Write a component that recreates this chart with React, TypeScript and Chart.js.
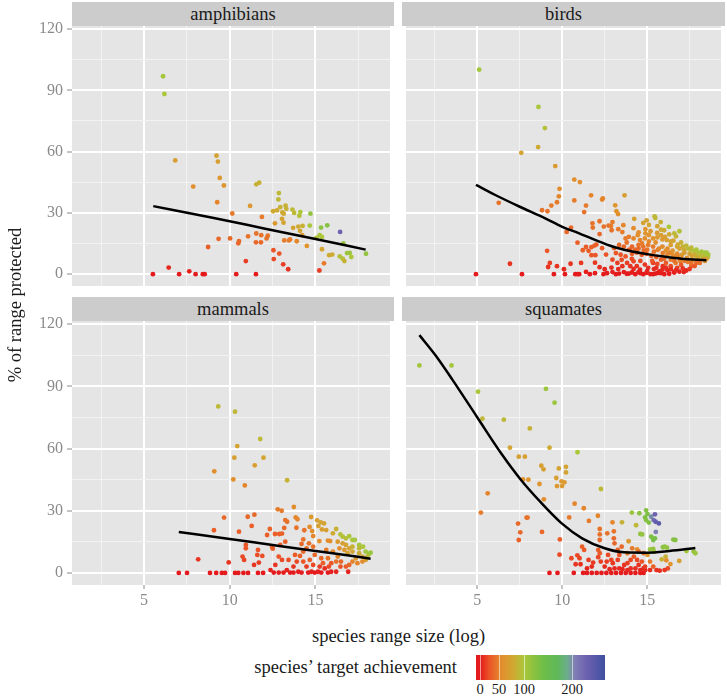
import React, { useEffect, useRef } from 'react';
import { Chart, registerables } from 'chart.js';

Chart.register(...registerables);

type Pt = [number, number, number]; // [log range size, % protected, target achievement]
type FitPt = [number, number];

// ---------- data ----------
const amphibians: Pt[] = [
  [6.11, 96.9, 105], [6.19, 88.2, 100], [6.82, 55.7, 70], [9.23, 58.0, 72], [9.31, 55.1, 70],
  [9.42, 47.1, 65], [9.66, 43.4, 62], [7.87, 42.9, 55], [9.27, 35.2, 50], [11.55, 44.0, 85],
  [11.72, 44.8, 85], [11.19, 33.4, 65], [10.15, 29.7, 45], [11.88, 28.0, 45], [12.87, 39.7, 90],
  [12.84, 36.6, 90], [12.53, 30.8, 80], [12.76, 31.2, 80], [12.95, 32.8, 85], [13.26, 33.6, 85],
  [13.3, 32.0, 85], [13.07, 30.2, 80], [13.15, 29.6, 80], [13.66, 31.6, 90], [13.76, 30.0, 90],
  [14.12, 30.4, 100], [14.06, 28.6, 95], [14.71, 29.6, 115], [13.05, 27.1, 75], [13.14, 25.2, 75],
  [12.64, 24.9, 65], [13.7, 22.7, 75], [14.0, 23.3, 80], [14.25, 23.6, 85], [14.1, 21.2, 75],
  [14.67, 23.8, 100], [14.23, 19.1, 65], [15.33, 22.8, 120], [15.69, 23.9, 125], [16.44, 20.7, 230],
  [15.25, 19.1, 100], [15.38, 18.2, 100], [15.06, 17.8, 95], [16.63, 15.1, 115], [15.38, 12.2, 75],
  [15.8, 9.3, 80], [15.98, 9.6, 80], [16.42, 8.7, 95], [16.59, 7.6, 95], [16.69, 6.4, 85],
  [16.84, 10.3, 110], [17.0, 10.4, 110], [17.09, 8.4, 100], [17.95, 10.0, 115], [15.5, 5.3, 45],
  [15.23, 1.8, 15], [14.5, 13.8, 60], [13.91, 16.1, 50], [13.52, 17.0, 45], [13.45, 16.5, 45],
  [13.18, 16.5, 45], [12.22, 18.8, 40], [12.15, 17.5, 40], [11.84, 19.1, 40], [11.55, 19.9, 40],
  [11.07, 18.5, 40], [11.82, 15.6, 35], [11.53, 15.6, 35], [10.54, 16.2, 35], [10.5, 15.1, 35],
  [10.02, 17.5, 35], [9.35, 17.3, 35], [8.74, 13.3, 30], [12.55, 11.7, 25], [12.89, 10.1, 25],
  [12.57, 7.4, 20], [13.12, 4.8, 15], [13.41, 2.4, 10], [10.94, 6.4, 15], [6.44, 3.2, 5],
  [5.52, 0, 0], [7.05, 0, 0], [7.64, 1.4, 3], [8.01, 0, 0], [8.43, 0, 0],
  [8.54, 0, 0], [10.38, 0, 0], [11.53, 0, 0],
];
const amphibiansFit: FitPt[] = [[5.54, 33.3], [9, 27.6], [12, 22.4], [15, 17.2], [17.93, 12.0]];

const birds: Pt[] = [
  [5.11, 100.1, 105], [4.92, 0, 0], [8.6, 81.9, 100], [8.98, 71.5, 95], [8.58, 62.2, 80],
  [7.59, 59.4, 75], [9.59, 52.9, 65], [9.84, 41.8, 55], [9.8, 38.1, 50], [10.71, 46.3, 55],
  [11.04, 45.1, 55], [9.69, 35.2, 45], [9.36, 33.6, 45], [8.81, 31.3, 40], [9.13, 30.8, 40],
  [6.26, 34.9, 40], [10.71, 36.1, 45], [11.4, 33.6, 45], [11.29, 30.4, 40], [11.7, 38.6, 50],
  [12.35, 36.5, 50], [12.39, 37.1, 50], [10.26, 20.7, 35], [10.52, 22.8, 35], [11.78, 24.9, 40],
  [11.8, 22.8, 40], [12.2, 25.9, 40], [12.45, 23.3, 40], [12.73, 23.8, 40], [12.2, 19.6, 35],
  [10.9, 15.4, 30], [11.4, 13.3, 30], [11.21, 11.7, 30], [11.72, 13.2, 30], [11.9, 14.0, 30],
  [12.01, 14.5, 30], [11.55, 11.4, 28], [11.72, 9.3, 25], [11.95, 9.3, 25], [12.35, 12.7, 28],
  [12.58, 9.6, 25], [9.11, 11.4, 25], [9.27, 5.5, 15], [9.17, 3.5, 10], [9.69, 3.9, 10],
  [6.92, 5.1, 10], [7.63, 0, 0], [9.51, 0, 0], [10.1, 2.4, 5], [10.16, 0, 0],
  [10.49, 5.1, 10], [10.77, 0, 0], [10.9, 0, 0], [11.0, 0, 0], [11.11, 5.5, 12],
  [11.4, 1.1, 3], [11.63, 0, 0], [11.93, 0.5, 1], [11.93, 5.6, 12], [12.2, 3.4, 8],
  [12.43, 0, 0], [12.5, 2.4, 5], [12.64, 0.5, 1],
  [13.67, 38.6, 70], [13.12, 33.7, 60], [13.19, 30.8, 60], [13.29, 29.4, 55], [14.24, 27.1, 70],
  [14.77, 25.1, 75], [14.97, 26.3, 75], [15.1, 24.1, 75], [15.44, 28.3, 90], [15.48, 27.5, 90],
  [16.28, 23.1, 100], [15.82, 21.8, 80], [12.96, 25.5, 45], [12.87, 23.6, 45], [12.91, 21.5, 40],
  [13.54, 20.6, 45], [13.73, 17.5, 45], [13.92, 18.3, 45], [14.2, 17.5, 50], [14.45, 19.1, 55],
  [14.58, 16.7, 50], [14.87, 17.5, 55], [15.1, 19.1, 60], [15.35, 17.5, 60], [15.59, 20.2, 65],
  [15.82, 19.1, 70], [16.05, 18.3, 70], [16.16, 16.7, 70], [16.55, 16.4, 75], [16.39, 14.3, 70],
  [16.77, 13.5, 75], [17.16, 11.9, 80], [17.54, 12.2, 95], [17.82, 11.1, 100], [18.11, 10.0, 100],
  [18.39, 9.0, 95], [18.58, 8.4, 95], [17.92, 8.7, 85], [17.63, 9.0, 70], [17.35, 7.9, 60],
  [17.06, 9.5, 65], [16.77, 10.0, 60], [16.58, 8.7, 55], [16.96, 6.3, 50], [16.68, 5.5, 45],
  [16.39, 7.1, 45], [16.2, 9.5, 50], [15.92, 10.3, 45], [15.63, 11.9, 45], [15.35, 13.5, 45],
  [15.06, 14.3, 45], [14.77, 13.5, 40], [14.49, 14.3, 40], [14.11, 13.5, 35], [13.92, 11.9, 35],
  [13.63, 13.5, 35], [13.35, 14.3, 35], [13.06, 12.7, 30], [13.16, 10.3, 25], [13.44, 9.5, 25],
  [13.73, 8.7, 25], [14.11, 10.0, 28], [14.39, 10.6, 30], [14.68, 9.5, 30], [14.96, 10.0, 32],
  [15.25, 9.0, 32], [15.54, 8.4, 32], [15.82, 7.1, 30], [16.11, 5.5, 28], [16.39, 3.9, 20],
  [16.77, 3.1, 15], [17.16, 1.0, 5], [12.96, 7.1, 20], [13.25, 5.5, 15], [13.54, 3.9, 10],
  [13.82, 5.5, 15], [14.01, 3.9, 10], [14.2, 6.3, 18], [14.39, 3.9, 10], [14.58, 2.2, 5],
  [14.87, 4.7, 12], [15.06, 3.1, 8], [15.35, 5.5, 15], [15.54, 3.1, 8], [15.73, 1.4, 3],
  [15.92, 3.9, 10], [16.2, 1.9, 5], [16.58, 1.0, 2], [13.35, 0.3, 0], [13.63, 1.0, 2],
  [13.92, 0.3, 0], [14.3, 0, 0], [14.49, 1.0, 2], [14.77, 0, 0], [14.96, 0.6, 1],
  [15.35, 0, 0], [15.63, 0.6, 1], [16.01, 0, 0], [12.96, 1.0, 2], [13.16, 0, 0],
  [14.5, 20.5, 55], [14.9, 22.0, 60], [15.2, 21.0, 65], [15.6, 23.5, 75], [16.0, 21.5, 80],
  [16.3, 19.5, 80], [16.7, 18.5, 85], [17.0, 15.5, 85], [17.3, 14.0, 90], [17.6, 13.0, 90],
  [17.9, 12.0, 100], [18.2, 11.0, 105], [18.4, 10.5, 100], [16.9, 12.5, 75], [17.2, 10.5, 70],
  [17.5, 10.0, 75], [17.8, 9.5, 80], [18.0, 8.0, 80], [18.3, 7.5, 75], [18.6, 9.5, 100],
  [16.5, 11.5, 60], [16.2, 12.5, 55], [15.9, 13.5, 55], [15.5, 15.5, 55], [15.1, 16.0, 50],
  [14.7, 15.0, 45], [14.3, 12.0, 35], [13.8, 15.5, 40], [16.0, 7.5, 35], [16.6, 6.5, 40],
  [17.0, 7.5, 50], [17.4, 6.0, 45], [17.7, 7.0, 55], [15.3, 6.5, 25], [15.6, 5.0, 20],
  [14.6, 6.5, 20], [14.1, 7.5, 22], [13.5, 7.0, 20], [16.4, 2.5, 8], [17.0, 4.5, 25],
  [17.6, 4.0, 30], [15.0, 1.5, 4], [14.2, 2.5, 6], [13.3, 2.5, 6], [12.9, 3.2, 8],
  [16.8, 9.0, 50],
  [15.2, 0, 0], [15.5, 0.3, 0], [15.8, 0.5, 1], [16.3, 0.2, 0], [16.6, 0.8, 2],
  [16.9, 1.2, 3], [17.3, 1.8, 5], [14.1, 0.8, 1], [13.8, 0.2, 0], [14.6, 0.5, 1],
  [15.4, 2.5, 6], [15.9, 2.2, 5], [16.1, 3.2, 8], [16.7, 2.0, 6], [17.1, 2.8, 10],
  [17.5, 2.5, 12], [17.8, 4.0, 25], [18.1, 5.5, 40], [18.4, 6.5, 55], [18.5, 7.5, 70],
  [17.9, 5.5, 35], [17.6, 5.5, 40], [17.2, 6.5, 45], [16.9, 7.5, 45], [16.5, 9.5, 55],
  [16.3, 10.5, 50], [16.1, 11.5, 55], [15.7, 12.5, 50], [15.4, 11.0, 40], [15.0, 12.0, 40],
  [14.8, 11.5, 35], [14.5, 12.5, 35], [14.0, 12.0, 30], [18.2, 9.0, 90], [18.5, 10.5, 105],
  [18.0, 10.5, 95], [17.7, 11.5, 95], [17.4, 12.5, 90], [17.1, 13.5, 85], [16.8, 14.5, 80],
  [16.4, 16.0, 75], [15.9, 17.0, 65], [15.6, 18.0, 65], [14.9, 20.0, 60], [14.2, 22.5, 55],
  [13.6, 24.0, 50], [13.3, 22.0, 45], [16.6, 20.0, 90], [16.9, 21.0, 95], [15.8, 25.5, 85],
];
const birdsFit: FitPt[] = [
  [4.92, 43.7], [6, 39], [7.5, 33], [9, 27.3], [10, 23.2], [11, 20], [12, 16.5],
  [13, 13.4], [14, 11.3], [15, 9.8], [16, 8.6], [17, 7.6], [18.49, 6.8],
];

const mammals: Pt[] = [
  [9.33, 80.3, 90], [10.31, 77.8, 90], [11.78, 64.6, 90], [10.44, 61.2, 75], [11.97, 55.6, 75],
  [10.27, 55.6, 70], [11.46, 51.9, 70], [9.1, 49.0, 55], [10.21, 45.1, 55], [10.88, 42.2, 50],
  [13.35, 44.7, 85], [12.8, 30.7, 45], [13.03, 30.0, 45], [13.74, 31.8, 55], [9.67, 26.7, 35],
  [11.05, 27.1, 35], [11.44, 28.1, 35], [9.08, 20.6, 30], [10.54, 19.9, 30], [11.28, 22.7, 30],
  [12.34, 21.2, 32], [12.64, 18.8, 30], [12.89, 18.8, 30], [13.05, 19.0, 32], [13.18, 21.7, 35],
  [13.24, 25.5, 40], [13.35, 24.7, 40], [13.85, 26.8, 50], [13.95, 25.9, 50], [13.89, 21.8, 40],
  [14.35, 20.6, 40], [14.75, 27.0, 65], [14.66, 22.2, 55], [14.81, 20.2, 55], [14.87, 17.8, 50],
  [15.1, 25.4, 70], [15.17, 22.7, 70], [15.31, 24.4, 75], [15.5, 23.9, 75], [15.38, 21.0, 70],
  [15.63, 20.7, 70], [15.23, 15.4, 55], [15.73, 15.6, 55], [15.86, 15.4, 55], [16.21, 21.2, 85],
  [16.02, 19.1, 80], [16.46, 18.6, 95], [16.59, 17.5, 95], [16.78, 16.7, 95], [16.97, 17.8, 100],
  [17.16, 15.9, 100], [17.3, 15.9, 105], [17.55, 13.5, 105], [17.78, 12.7, 100], [17.93, 10.3, 105],
  [18.12, 9.2, 105], [18.22, 9.8, 110], [16.78, 13.5, 75], [16.97, 11.9, 75], [17.16, 10.3, 75],
  [16.88, 9.5, 70], [16.69, 11.1, 65], [16.59, 14.3, 70], [16.3, 15.1, 65], [17.55, 9.5, 80],
  [17.74, 7.9, 75], [17.36, 7.1, 65], [17.93, 6.3, 70], [17.16, 5.5, 50], [16.97, 3.9, 35],
  [16.78, 3.1, 30], [16.91, 0.6, 5], [16.3, 7.9, 50], [16.21, 5.5, 40], [16.46, 3.1, 25],
  [16.21, 0.6, 5], [15.78, 3.1, 20], [15.44, 4.7, 30], [15.73, 7.1, 40], [15.34, 7.1, 35],
  [14.96, 8.7, 35], [14.67, 6.3, 30], [14.87, 3.9, 20], [15.25, 3.1, 15], [15.15, 0.6, 3],
  [14.77, 0.6, 2], [14.48, 3.1, 15], [14.29, 5.5, 25], [14.29, 10.3, 35], [14.1, 8.2, 30],
  [13.91, 5.5, 20], [13.72, 3.1, 12], [14.0, 0.6, 2], [13.52, 0.2, 0], [13.33, 1.4, 5],
  [13.81, 8.7, 28], [13.43, 6.3, 22], [14.29, 16.2, 40], [14.62, 14.3, 40], [14.48, 11.9, 38],
  [12.95, 13.5, 30], [13.05, 6.3, 20], [12.86, 7.9, 25], [12.66, 3.9, 12], [12.38, 1.4, 5],
  [12.57, 0.2, 0], [12.86, 0.2, 0], [13.14, 0.2, 0], [12.47, 12.7, 30], [12.51, 11.7, 30],
  [11.65, 11.1, 25], [11.61, 8.7, 22], [11.9, 8.2, 22], [11.7, 5.0, 15], [11.42, 3.9, 12],
  [10.94, 13.5, 25], [10.94, 11.9, 25], [10.75, 7.9, 20], [10.84, 6.3, 18], [9.94, 5.1, 12],
  [8.16, 6.6, 12], [7.03, 0, 0], [7.51, 0, 0], [8.85, 0, 0], [9.21, 0, 0],
  [9.54, 0, 0], [9.73, 0, 0], [10.31, 0, 0], [10.5, 0, 0], [10.8, 0, 0],
  [11.07, 0, 0], [11.65, 0, 0], [11.95, 0, 0], [13.72, 0.2, 0], [14.19, 0.2, 0],
  [14.58, 0.2, 0], [14.96, 0.2, 0], [15.34, 0.2, 0], [15.73, 0.2, 0], [15.92, 0.6, 2],
  [15.54, 2.2, 8], [15.92, 4.7, 25], [16.49, 5.5, 35], [17.45, 4.7, 50], [17.74, 5.5, 55],
  [18.03, 7.9, 90], [17.55, 11.9, 90], [17.16, 12.7, 85], [16.4, 11.9, 55], [16.02, 10.3, 50],
  [15.63, 11.1, 45], [13.24, 15.1, 30], [12.18, 18.3, 30], [14.19, 14.0, 35], [14.87, 12.7, 40],
];
const mammalsFit: FitPt[] = [[7.03, 19.8], [10, 16.4], [13, 12.9], [16, 9.5], [18.22, 6.9]];

const squamates: Pt[] = [
  [1.59, 100.1, 105], [3.48, 100.1, 105], [5.04, 87.4, 100], [9.04, 88.8, 110], [9.55, 82.1, 110],
  [5.3, 74.4, 90], [6.56, 73.9, 90], [8.09, 69.7, 85], [6.92, 60.4, 75], [9.25, 60.4, 80],
  [10.9, 58.2, 100], [7.44, 56.1, 70], [7.8, 56.1, 70], [8.77, 51.7, 70], [8.9, 50.0, 70],
  [9.8, 50.4, 75], [10.22, 51.2, 75], [10.22, 48.5, 75], [9.65, 45.8, 70], [7.69, 45.1, 60],
  [8.01, 45.0, 60], [8.66, 42.9, 60], [9.96, 44.2, 65], [10.13, 43.7, 65], [9.69, 41.9, 65],
  [9.99, 41.9, 65], [5.61, 38.4, 50], [8.92, 35.5, 55], [12.28, 40.5, 90], [5.21, 29.1, 45],
  [10.73, 33.4, 50], [11.27, 31.2, 50], [10.41, 26.8, 45], [12.1, 27.6, 50], [11.57, 25.1, 45],
  [7.4, 23.8, 35], [7.53, 19.6, 35], [7.44, 15.9, 30], [7.9, 26.7, 40], [7.96, 26.7, 40],
  [8.81, 19.8, 35], [9.86, 16.2, 30], [9.84, 8.8, 20], [9.25, 0, 0], [9.72, 0, 0],
  [10.68, 0, 0], [11.23, 0, 0], [11.46, 0, 0], [11.74, 0, 0], [12.03, 0, 0],
  [12.31, 0, 0], [12.6, 0, 0], [12.89, 0, 0], [13.17, 0, 0], [13.46, 0, 0],
  [13.74, 0, 0], [14.03, 0, 0], [14.31, 0, 0], [14.6, 0, 0], [14.79, 0, 0],
  [10.54, 7.1, 20], [10.89, 8.5, 20], [11.02, 7.1, 18], [10.79, 4.2, 12], [11.17, 12.7, 30],
  [11.29, 11.1, 28], [11.55, 6.3, 15], [11.08, 4.2, 10], [12.12, 11.1, 30], [12.21, 9.5, 28],
  [12.12, 7.6, 20], [12.27, 5.5, 15], [12.7, 8.7, 20], [12.89, 6.3, 18], [12.21, 21.2, 40],
  [12.21, 18.6, 40], [12.65, 19.1, 40], [13.04, 20.1, 40], [12.96, 24.4, 50], [12.21, 15.9, 35],
  [13.04, 16.7, 35], [13.08, 14.3, 35], [13.27, 11.1, 30], [13.36, 8.7, 25], [13.27, 6.3, 15],
  [13.65, 3.9, 10], [13.5, 12.7, 35], [13.52, 24.4, 85], [13.91, 15.3, 65], [13.84, 9.5, 45],
  [14.12, 11.9, 45], [14.35, 23.0, 90], [14.41, 11.4, 60], [14.22, 7.9, 30], [14.5, 3.9, 10],
  [14.79, 2.2, 5], [14.1, 29.1, 110], [14.54, 28.8, 120], [14.94, 30.2, 125], [15.02, 28.4, 130],
  [14.88, 26.8, 130], [15.1, 24.3, 130], [14.94, 25.5, 125], [15.24, 27.1, 200], [15.46, 28.3, 230],
  [15.38, 25.5, 220], [15.69, 23.9, 245], [15.5, 24.7, 240], [15.51, 19.8, 205], [14.6, 18.8, 115],
  [14.71, 18.6, 115], [15.24, 17.5, 130], [15.36, 15.9, 135], [15.46, 16.7, 135], [15.17, 11.4, 110],
  [15.36, 11.6, 115], [15.4, 10.3, 110], [15.93, 12.4, 120], [16.03, 12.7, 120], [16.17, 12.2, 115],
  [16.54, 16.1, 125], [16.66, 15.9, 125], [17.32, 10.6, 105], [17.74, 10.3, 115], [17.84, 9.5, 110],
  [16.89, 5.8, 70], [16.09, 7.9, 85], [15.86, 6.6, 85], [16.37, 4.3, 60], [15.02, 8.7, 65],
  [15.17, 5.5, 45], [15.36, 3.1, 30], [15.55, 1.4, 10], [15.74, 1.1, 8], [15.17, 1.4, 8],
  [14.89, 1.4, 6], [14.6, 1.4, 5], [14.31, 2.2, 8], [14.03, 2.2, 8], [13.84, 1.4, 5],
  [13.55, 1.8, 5], [13.36, 2.2, 6], [13.08, 2.2, 6], [12.79, 1.8, 5], [12.5, 3.1, 8],
  [11.74, 3.1, 8], [11.46, 2.2, 5], [14.03, 6.3, 20], [14.41, 6.3, 20], [14.69, 5.5, 25],
  [14.88, 3.1, 15], [13.84, 4.7, 15], [12.98, 4.7, 12], [12.62, 5.5, 15], [11.82, 5.0, 12],
  [16.13, 6.1, 55], [16.22, 2.2, 20], [16.03, 1.4, 12], [14.5, 10.3, 35], [14.79, 9.5, 40],
];
const squamatesFit: FitPt[] = [
  [1.59, 114.7], [2.6, 104.3], [3.55, 93.0], [5.04, 74.5], [6.41, 57.6], [7.55, 45.1],
  [8.7, 34.4], [9.97, 23.9], [11.17, 16.7], [12.5, 11.9], [13.65, 9.96], [14.98, 9.8],
  [16.31, 10.6], [17.84, 12.0],
];

// axes
const X_MIN = 0.8;
const X_MAX = 19.35;
const Y_MIN = -5.8;
const Y_MAX = 121.5;
const X_GRID = [2.5, 5, 7.5, 10, 12.5, 15, 17.5];
const X_LABELS = [5, 10, 15];
const Y_GRID = [0, 15, 30, 45, 60, 75, 90, 105, 120];
const Y_LABELS = [0, 30, 60, 90, 120];

// colour scale for target achievement
const ACH_STOPS = [0, 25, 55, 80, 100, 140, 170, 190, 205, 230, 270];
const ACH_COLORS = ['#E41A1C', '#EB5527', '#E38E2D', '#CFAA33', '#AAC73A', '#6EBE47', '#5FB85A', '#6BAE8C', '#8080B4', '#6E62B0', '#3F4FA0'];
const LEGEND_TICKS = [0, 50, 100, 200];

// ---------- helpers ----------
const FONT = '"Liberation Serif", Tinos, "Times New Roman", serif';
const TICK_GREY = '#8a8a8a';

Chart.defaults.font.family = FONT;

function hexToRgb(h: string): number[] {
  const n = parseInt(h.slice(1), 16);
  return [(n >> 16) & 255, (n >> 8) & 255, n & 255];
}
function achColor(v: number): string {
  if (v <= ACH_STOPS[0]) return ACH_COLORS[0];
  for (let i = 1; i < ACH_STOPS.length; i++) {
    if (v <= ACH_STOPS[i]) {
      const t = (v - ACH_STOPS[i - 1]) / (ACH_STOPS[i] - ACH_STOPS[i - 1]);
      const a = hexToRgb(ACH_COLORS[i - 1]);
      const b = hexToRgb(ACH_COLORS[i]);
      const c = a.map((x, k) => Math.round(x + (b[k] - x) * t));
      return `rgb(${c[0]},${c[1]},${c[2]})`;
    }
  }
  return ACH_COLORS[ACH_COLORS.length - 1];
}

// legend bar geometry: value -> pixel along bar
const BAR_LEFT = 476;
const BAR_WIDTH = 129;
const BAR_VALS = [-10, 0, 50, 100, 200, 270];
const BAR_PX = [476, 480, 499, 524, 572, 605];
function barPx(v: number): number {
  for (let i = 1; i < BAR_VALS.length; i++) {
    if (v <= BAR_VALS[i]) {
      const t = (v - BAR_VALS[i - 1]) / (BAR_VALS[i] - BAR_VALS[i - 1]);
      return BAR_PX[i - 1] + (BAR_PX[i] - BAR_PX[i - 1]) * t;
    }
  }
  return BAR_PX[BAR_PX.length - 1];
}

const bgPlugin = {
  id: 'panelBg',
  beforeDraw(chart: any) {
    const { ctx, chartArea: a } = chart;
    ctx.save();
    ctx.fillStyle = '#E5E5E5';
    ctx.fillRect(a.left, a.top, a.right - a.left, a.bottom - a.top);
    ctx.restore();
  },
};

// layout
const COLS = [{ left: 72, right: 394, axisW: 72, canvasLeft: 0 }, { left: 402, right: 725, axisW: 0, canvasLeft: 402 }];
const ROWS = [{ top: 26, bottom: 290, axisH: 0 }, { top: 321, bottom: 585, axisH: 36 }];
const PAD_TOP = 10;
const STRIP_H = 24;

const PANELS = [
  { title: 'amphibians', points: amphibians, fit: amphibiansFit, col: 0, row: 0 },
  { title: 'birds', points: birds, fit: birdsFit, col: 1, row: 0 },
  { title: 'mammals', points: mammals, fit: mammalsFit, col: 0, row: 1 },
  { title: 'squamates', points: squamates, fit: squamatesFit, col: 1, row: 1 },
];

function makeConfig(p: typeof PANELS[number]): any {
  const showY = p.col === 0;
  const showX = p.row === 1;
  const col = COLS[p.col];
  const row = ROWS[p.row];
  return {
    type: 'scatter',
    data: {
      datasets: [
        {
          data: p.fit.map(([x, y]) => ({ x, y })),
          showLine: true,
          borderColor: '#000000',
          borderWidth: 2.5,
          pointRadius: 0,
          tension: 0.4,
          cubicInterpolationMode: 'monotone',
          fill: false,
          order: 0,
        },
        {
          data: p.points.map(([x, y]) => ({ x, y })),
          backgroundColor: p.points.map((q) => achColor(q[2])),
          borderWidth: 0,
          pointRadius: 2.4,
          pointBorderWidth: 0,
          order: 1,
        },
      ],
    },
    options: {
      animation: false,
      responsive: false,
      maintainAspectRatio: false,
      devicePixelRatio: 1,
      events: [],
      font: { family: FONT },
      layout: { padding: { top: PAD_TOP, left: 0, right: 0, bottom: 0 } },
      plugins: { legend: { display: false }, tooltip: { enabled: false }, title: { display: false } },
      scales: {
        x: {
          type: 'linear',
          min: X_MIN,
          max: X_MAX,
          afterBuildTicks: (s: any) => { s.ticks = X_GRID.map((v) => ({ value: v })); },
          afterFit: (s: any) => { s.height = row.axisH; s.paddingLeft = 0; s.paddingRight = 0; },
          border: { display: false },
          grid: {
            color: (c: any) => (c.tick && c.tick.value % 5 === 0 ? '#FFFFFF' : '#F2F2F2'),
            lineWidth: (c: any) => (c.tick && c.tick.value % 5 === 0 ? 2 : 1),
            drawTicks: showX,
            tickLength: 4,
            tickWidth: 1,
            tickColor: (c: any) => (c.tick && c.tick.value % 5 === 0 ? TICK_GREY : 'rgba(0,0,0,0)'),
          },
          ticks: {
            display: showX,
            autoSkip: false,
            maxRotation: 0,
            padding: 2,
            color: TICK_GREY,
            font: { family: FONT, size: 16 },
            callback: (v: any) => (X_LABELS.includes(Number(v)) ? String(v) : ''),
          },
        },
        y: {
          type: 'linear',
          min: Y_MIN,
          max: Y_MAX,
          afterBuildTicks: (s: any) => { s.ticks = Y_GRID.map((v) => ({ value: v })); },
          afterFit: (s: any) => { s.width = col.axisW; s.paddingTop = 0; s.paddingBottom = 0; },
          border: { display: false },
          grid: {
            color: (c: any) => (c.tick && c.tick.value % 30 === 0 ? '#FFFFFF' : '#F2F2F2'),
            lineWidth: (c: any) => (c.tick && c.tick.value % 30 === 0 ? 2 : 1),
            drawTicks: showY,
            tickLength: 5,
            tickWidth: 1,
            tickColor: (c: any) => (c.tick && c.tick.value % 30 === 0 ? TICK_GREY : 'rgba(0,0,0,0)'),
          },
          ticks: {
            display: showY,
            autoSkip: false,
            padding: 4,
            color: TICK_GREY,
            font: { family: FONT, size: 16 },
            callback: (v: any) => (Y_LABELS.includes(Number(v)) ? String(v) : ''),
          },
        },
      },
    },
    plugins: [bgPlugin],
  };
}

function canvasBox(p: typeof PANELS[number]) {
  const col = COLS[p.col];
  const row = ROWS[p.row];
  return {
    left: col.canvasLeft,
    top: row.top - PAD_TOP,
    width: col.right - col.canvasLeft,
    height: PAD_TOP + (row.bottom - row.top) + row.axisH,
  };
}

export default function App() {
  const refs = useRef<(HTMLCanvasElement | null)[]>([]);

  useEffect(() => {
    const charts = PANELS.map((p, i) => new Chart(refs.current[i] as HTMLCanvasElement, makeConfig(p)));
    return () => charts.forEach((c) => c.destroy());
  }, []);

  const gradient = `linear-gradient(to right, ${ACH_STOPS.map(
    (v, i) => `${ACH_COLORS[i]} ${(((barPx(v) - BAR_LEFT) / BAR_WIDTH) * 100).toFixed(2)}%`
  ).join(', ')})`;

  return (
    <div style={{ position: 'absolute', left: 0, top: 0, width: 727, height: 697, background: '#FFFFFF', fontFamily: FONT, overflow: 'hidden' }}>
      {PANELS.map((p, i) => {
        const b = canvasBox(p);
        return (
          <canvas
            key={p.title}
            ref={(el) => { refs.current[i] = el; }}
            width={b.width}
            height={b.height}
            style={{ position: 'absolute', left: b.left, top: b.top, width: b.width, height: b.height }}
          />
        );
      })}
      {PANELS.map((p) => {
        const col = COLS[p.col];
        const row = ROWS[p.row];
        return (
          <div
            key={'strip-' + p.title}
            style={{
              position: 'absolute', left: col.left, top: row.top - STRIP_H, width: col.right - col.left, height: STRIP_H,
              background: '#CCCCCC', color: '#1A1A1A', fontSize: 18.5, lineHeight: STRIP_H + 'px', textAlign: 'center',
            }}
          >
            {p.title}
          </div>
        );
      })}
      <div
        style={{
          position: 'absolute', left: 15 - 150, top: 305 - 12, width: 300, height: 24, lineHeight: '24px',
          textAlign: 'center', fontSize: 18.5, color: '#1A1A1A', transform: 'rotate(-90deg)',
        }}
      >
        % of range protected
      </div>
      <div
        style={{
          position: 'absolute', left: 72, top: 636 - 12, width: 653, height: 24, lineHeight: '24px',
          textAlign: 'center', fontSize: 18.5, color: '#1A1A1A',
        }}
      >
        species range size (log)
      </div>
      <div
        style={{
          position: 'absolute', left: 100, top: 667 - 12, width: 357, height: 24, lineHeight: '24px',
          textAlign: 'right', fontSize: 18.5, color: '#1A1A1A',
        }}
      >
        species’ target achievement
      </div>
      <div style={{ position: 'absolute', left: BAR_LEFT, top: 655, width: BAR_WIDTH, height: 25, background: gradient }}>
        {LEGEND_TICKS.map((v) => (
          <div key={'bt' + v} style={{ position: 'absolute', left: barPx(v) - BAR_LEFT - 0.5, top: 0, width: 1, height: 25, background: 'rgba(255,255,255,0.55)' }} />
        ))}
      </div>
      {LEGEND_TICKS.map((v) => (
        <div
          key={'bl' + v}
          style={{
            position: 'absolute', left: barPx(v) - 20, top: 681, width: 40, height: 16, lineHeight: '16px',
            textAlign: 'center', fontSize: 14.5, color: '#1A1A1A',
          }}
        >
          {v}
        </div>
      ))}
    </div>
  );
}
